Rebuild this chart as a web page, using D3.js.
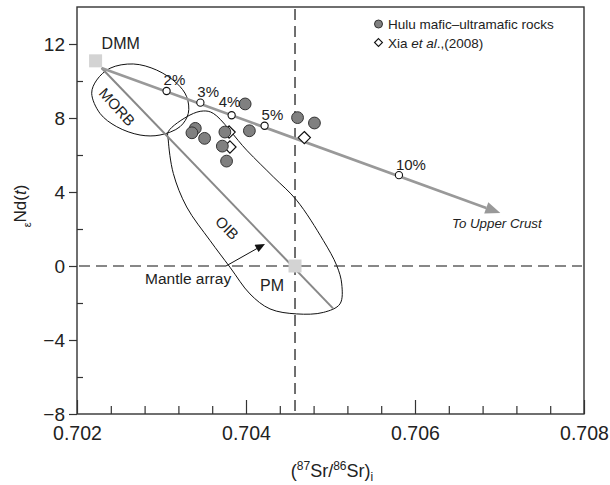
<!DOCTYPE html>
<html>
<head>
<meta charset="utf-8">
<script src="https://cdn.jsdelivr.net/npm/d3@7"></script>
<style>
  body { margin: 0; background: #fff; }
  text { font-family: "Liberation Sans", Arial, sans-serif; fill: #222; }
</style>
</head>
<body>
<script>
// Hulu mafic-ultramafic rocks
var huluSr = [0.70399, 0.70461, 0.70481, 0.70340, 0.70336, 0.70351, 0.70375, 0.70404, 0.70372, 0.70377];
var huluNd = [8.76, 8.02, 7.73, 7.44, 7.20, 6.90, 7.24, 7.31, 6.48, 5.67];

// Xia et al. (2008)
var xiaSr = [0.70380, 0.70381, 0.70469];
var xiaNd = [7.24, 6.43, 6.94];

// end members
var dmm = [0.70222, 11.09];
var pm = [0.70458, 0];

// DMM - upper crust mixing line and its marks
var mixStart = [0.70229, 10.70];
var mixEnd = [0.70701, 2.86];
var mixSr = [0.70306, 0.70346, 0.70383, 0.70422, 0.70581];
var mixNd = [9.46, 8.83, 8.15, 7.58, 4.91];
var mixLabels = ['2%', '3%', '4%', '5%', '10%'];

// mantle array
var mantleStart = [0.70229, 10.70];
var mantleEnd = [0.70503, -2.29];

// reference (bulk earth) lines
var refSr = 0.70458;
var refNd = 0;

// fields
var morbSr = [0.702174, 0.702233, 0.702391, 0.702666, 0.702943, 0.703180, 0.703298, 0.703317, 0.703219, 0.702982, 0.702746, 0.702470, 0.702272];
var morbNd = [9.34, 10.05, 10.69, 10.92, 10.59, 9.88, 9.15, 8.25, 7.53, 7.08, 7.08, 7.53, 8.25];
var oibSr = [0.703080, 0.703337, 0.703495, 0.703613, 0.704008, 0.704323, 0.704600, 0.704915, 0.705073, 0.705133, 0.705112, 0.704915, 0.704600, 0.704284, 0.704047, 0.703811, 0.703574, 0.703298, 0.703140, 0.703080];
var oibNd = [7.26, 8.16, 8.38, 8.25, 6.26, 4.82, 3.55, 1.38, 0.03, -0.97, -2.05, -2.51, -2.59, -2.32, -1.51, -0.07, 1.38, 3.19, 5.00, 6.81];

// ticks
var xMajor = [0.702, 0.704, 0.706, 0.708];
var xMinor = [0.7024, 0.7028, 0.7032, 0.7036, 0.7044, 0.7048, 0.7052, 0.7056, 0.7064, 0.7068, 0.7072, 0.7076];
var yMajor = [-8, -4, 0, 4, 8, 12];
var yMinor = [-6, -2, 2, 6, 10];

var svg = d3.select('body').append('svg')
    .attr('width', 610)
    .attr('height', 485);

var x = d3.scaleLinear().domain([0.702, 0.708]).range([77, 584]);
var y = d3.scaleLinear().domain([-8, 14]).range([414, 7]);

var fmt = function(d){ return d < 0 ? '\u2212' + Math.abs(d) : String(d); };

// axes
var gx = svg.append('g').attr('transform', 'translate(0,414)')
    .call(d3.axisBottom(x).tickValues(xMajor).tickSizeInner(-14).tickSizeOuter(0).tickPadding(12).tickFormat(d3.format('.3f')));
var gxm = svg.append('g').attr('transform', 'translate(0,414)')
    .call(d3.axisBottom(x).tickValues(xMinor).tickSizeInner(-8).tickSizeOuter(0).tickFormat(''));
var gy = svg.append('g').attr('transform', 'translate(77,0)')
    .call(d3.axisLeft(y).tickValues(yMajor).tickSizeInner(8).tickSizeOuter(0).tickPadding(4).tickFormat(fmt));
var gym = svg.append('g').attr('transform', 'translate(77,0)')
    .call(d3.axisLeft(y).tickValues(yMinor).tickSizeInner(-6).tickSizeOuter(0).tickFormat(''));

[gx, gxm, gy, gym].forEach(function(g){
    g.select('.domain').remove();
    g.selectAll('line').attr('stroke', '#333').attr('stroke-width', 1.2);
    g.selectAll('text').style('font-family', '"Liberation Sans", Arial, sans-serif').style('font-size', '19px').attr('fill', '#222');
});
gx.selectAll('text').style('font-size', '19.5px');

svg.append('rect')
    .attr('x', 77).attr('y', 7)
    .attr('width', 584 - 77).attr('height', 414 - 7)
    .attr('fill', 'none')
    .attr('stroke', '#333')
    .attr('stroke-width', 1.4);

// dashed reference lines
svg.append('line')
    .attr('x1', x(refSr)).attr('x2', x(refSr))
    .attr('y1', 9).attr('y2', 412)
    .attr('stroke', '#111').attr('stroke-width', 1.2).attr('stroke-dasharray', '11,6');
svg.append('line')
    .attr('x1', 79).attr('x2', 582)
    .attr('y1', y(refNd)).attr('y2', y(refNd))
    .attr('stroke', '#111').attr('stroke-width', 1.2).attr('stroke-dasharray', '11,6');

// fields
var field = d3.line()
    .x(function(d){ return x(d[0]); })
    .y(function(d){ return y(d[1]); })
    .curve(d3.curveCatmullRomClosed.alpha(0.5));

svg.append('path')
    .attr('d', field(d3.zip(morbSr, morbNd)))
    .attr('fill', 'none').attr('stroke', '#111').attr('stroke-width', 1);
svg.append('path')
    .attr('d', field(d3.zip(oibSr, oibNd)))
    .attr('fill', 'none').attr('stroke', '#111').attr('stroke-width', 1);

// mantle array
svg.append('line')
    .attr('x1', x(mantleStart[0])).attr('y1', y(mantleStart[1]))
    .attr('x2', x(mantleEnd[0])).attr('y2', y(mantleEnd[1]))
    .attr('stroke', '#888').attr('stroke-width', 2);

// mixing line with arrow
var mx1 = x(mixStart[0]), my1 = y(mixStart[1]);
var mx2 = x(mixEnd[0]), my2 = y(mixEnd[1]);
var ang = Math.atan2(my2 - my1, mx2 - mx1);
var aLen = 15, aHalf = 6;
var bx = mx2 - aLen * Math.cos(ang), by = my2 - aLen * Math.sin(ang);
svg.append('line')
    .attr('x1', mx1).attr('y1', my1)
    .attr('x2', bx).attr('y2', by)
    .attr('stroke', '#999').attr('stroke-width', 2.6);
svg.append('path')
    .attr('d', 'M' + mx2 + ',' + my2 +
        'L' + (bx + aHalf * Math.sin(ang)) + ',' + (by - aHalf * Math.cos(ang)) +
        'L' + (bx - aHalf * Math.sin(ang)) + ',' + (by + aHalf * Math.cos(ang)) + 'Z')
    .attr('fill', '#999');

// Xia et al. diamonds (under circles)
var diamond = d3.symbol().type(d3.symbolDiamond2).size(95);
svg.selectAll('.xia').data(d3.zip(xiaSr, xiaNd)).enter().append('path')
    .attr('class', 'xia')
    .attr('d', diamond)
    .attr('transform', function(d){ return 'translate(' + x(d[0]) + ',' + y(d[1]) + ')'; })
    .attr('fill', '#fff').attr('stroke', '#111').attr('stroke-width', 1.2);

// Hulu circles
svg.selectAll('.hulu').data(d3.zip(huluSr, huluNd)).enter().append('circle')
    .attr('class', 'hulu')
    .attr('cx', function(d){ return x(d[0]); })
    .attr('cy', function(d){ return y(d[1]); })
    .attr('r', 5.9)
    .attr('fill', '#808080').attr('stroke', '#333').attr('stroke-width', 1);

// mixing marks
svg.selectAll('.mix').data(d3.zip(mixSr, mixNd)).enter().append('circle')
    .attr('class', 'mix')
    .attr('cx', function(d){ return x(d[0]); })
    .attr('cy', function(d){ return y(d[1]); })
    .attr('r', 3.6)
    .attr('fill', '#fff').attr('stroke', '#111').attr('stroke-width', 1.1);
svg.selectAll('.mixlab').data(mixLabels).enter().append('text')
    .attr('class', 'mixlab')
    .attr('x', function(d, i){ return x(mixSr[i]) + (d === '4%' ? -13 : -3); })
    .attr('y', function(d, i){ return y(mixNd[i]) - (d === '4%' ? 8.5 : 5.5); })
    .style('font-size', '15px')
    .text(function(d){ return d; });

// end-member squares
[dmm, pm].forEach(function(p){
    svg.append('rect')
        .attr('x', x(p[0]) - 6.5).attr('y', y(p[1]) - 6.5)
        .attr('width', 13).attr('height', 13)
        .attr('fill', '#d3d3d3');
});

// annotations
svg.append('text').attr('x', x(dmm[0]) + 6).attr('y', y(dmm[1]) - 11.5)
    .style('font-size', '16px').text('DMM');
svg.append('text').attr('x', x(pm[0]) - 35).attr('y', y(pm[1]) + 25)
    .style('font-size', '16px').text('PM');
svg.append('text')
    .attr('transform', 'translate(117,107) rotate(48)')
    .attr('text-anchor', 'middle').attr('dy', '0.35em')
    .style('font-size', '15px').text('MORB');
svg.append('text')
    .attr('transform', 'translate(227,228) rotate(45)')
    .attr('text-anchor', 'middle').attr('dy', '0.35em')
    .style('font-size', '15px').text('OIB');
svg.append('text').attr('x', 145).attr('y', 284)
    .style('font-size', '15.5px').text('Mantle array');
svg.append('line')
    .attr('x1', 226).attr('y1', 266).attr('x2', 257).attr('y2', 248.5)
    .attr('stroke', '#111').attr('stroke-width', 1);
svg.append('path')
    .attr('d', 'M265,244 L254.5,244.8 L258.6,252 Z')
    .attr('fill', '#111');
svg.append('text').attr('x', 452).attr('y', 228)
    .style('font-size', '13.3px').style('font-style', 'italic').text('To Upper Crust');

// legend
svg.append('circle').attr('cx', 378.5).attr('cy', 24).attr('r', 4)
    .attr('fill', '#808080').attr('stroke', '#333').attr('stroke-width', 1);
svg.append('path').attr('d', d3.symbol().type(d3.symbolDiamond2).size(40))
    .attr('transform', 'translate(378.5,42.5)')
    .attr('fill', '#fff').attr('stroke', '#111').attr('stroke-width', 1.1);
svg.append('text').attr('x', 388).attr('y', 28.5)
    .style('font-size', '13.5px').text('Hulu mafic\u2013ultramafic rocks');
var lg2 = svg.append('text').attr('x', 388).attr('y', 47.5).style('font-size', '13.5px');
lg2.append('tspan').text('Xia ');
lg2.append('tspan').style('font-style', 'italic').text('et al');
lg2.append('tspan').text('.,(2008)');

// axis titles
var xt = svg.append('text').attr('x', 332).attr('y', 477)
    .attr('text-anchor', 'middle').style('font-size', '18px');
xt.append('tspan').text('(');
xt.append('tspan').attr('dy', -7).style('font-size', '12px').text('87');
xt.append('tspan').attr('dy', 7).text('Sr/');
xt.append('tspan').attr('dy', -7).style('font-size', '12px').text('86');
xt.append('tspan').attr('dy', 7).text('Sr)');
xt.append('tspan').attr('dy', 4).style('font-size', '12px').text('i');

var yt = svg.append('text')
    .attr('transform', 'translate(26,206) rotate(-90)')
    .attr('text-anchor', 'middle').style('font-size', '17px');
yt.append('tspan').attr('dy', 5).style('font-size', '11px').text('\u03b5');
yt.append('tspan').attr('dy', -5).text('Nd(');
yt.append('tspan').style('font-style', 'italic').text('t');
yt.append('tspan').text(')');
</script>
</body>
</html>
